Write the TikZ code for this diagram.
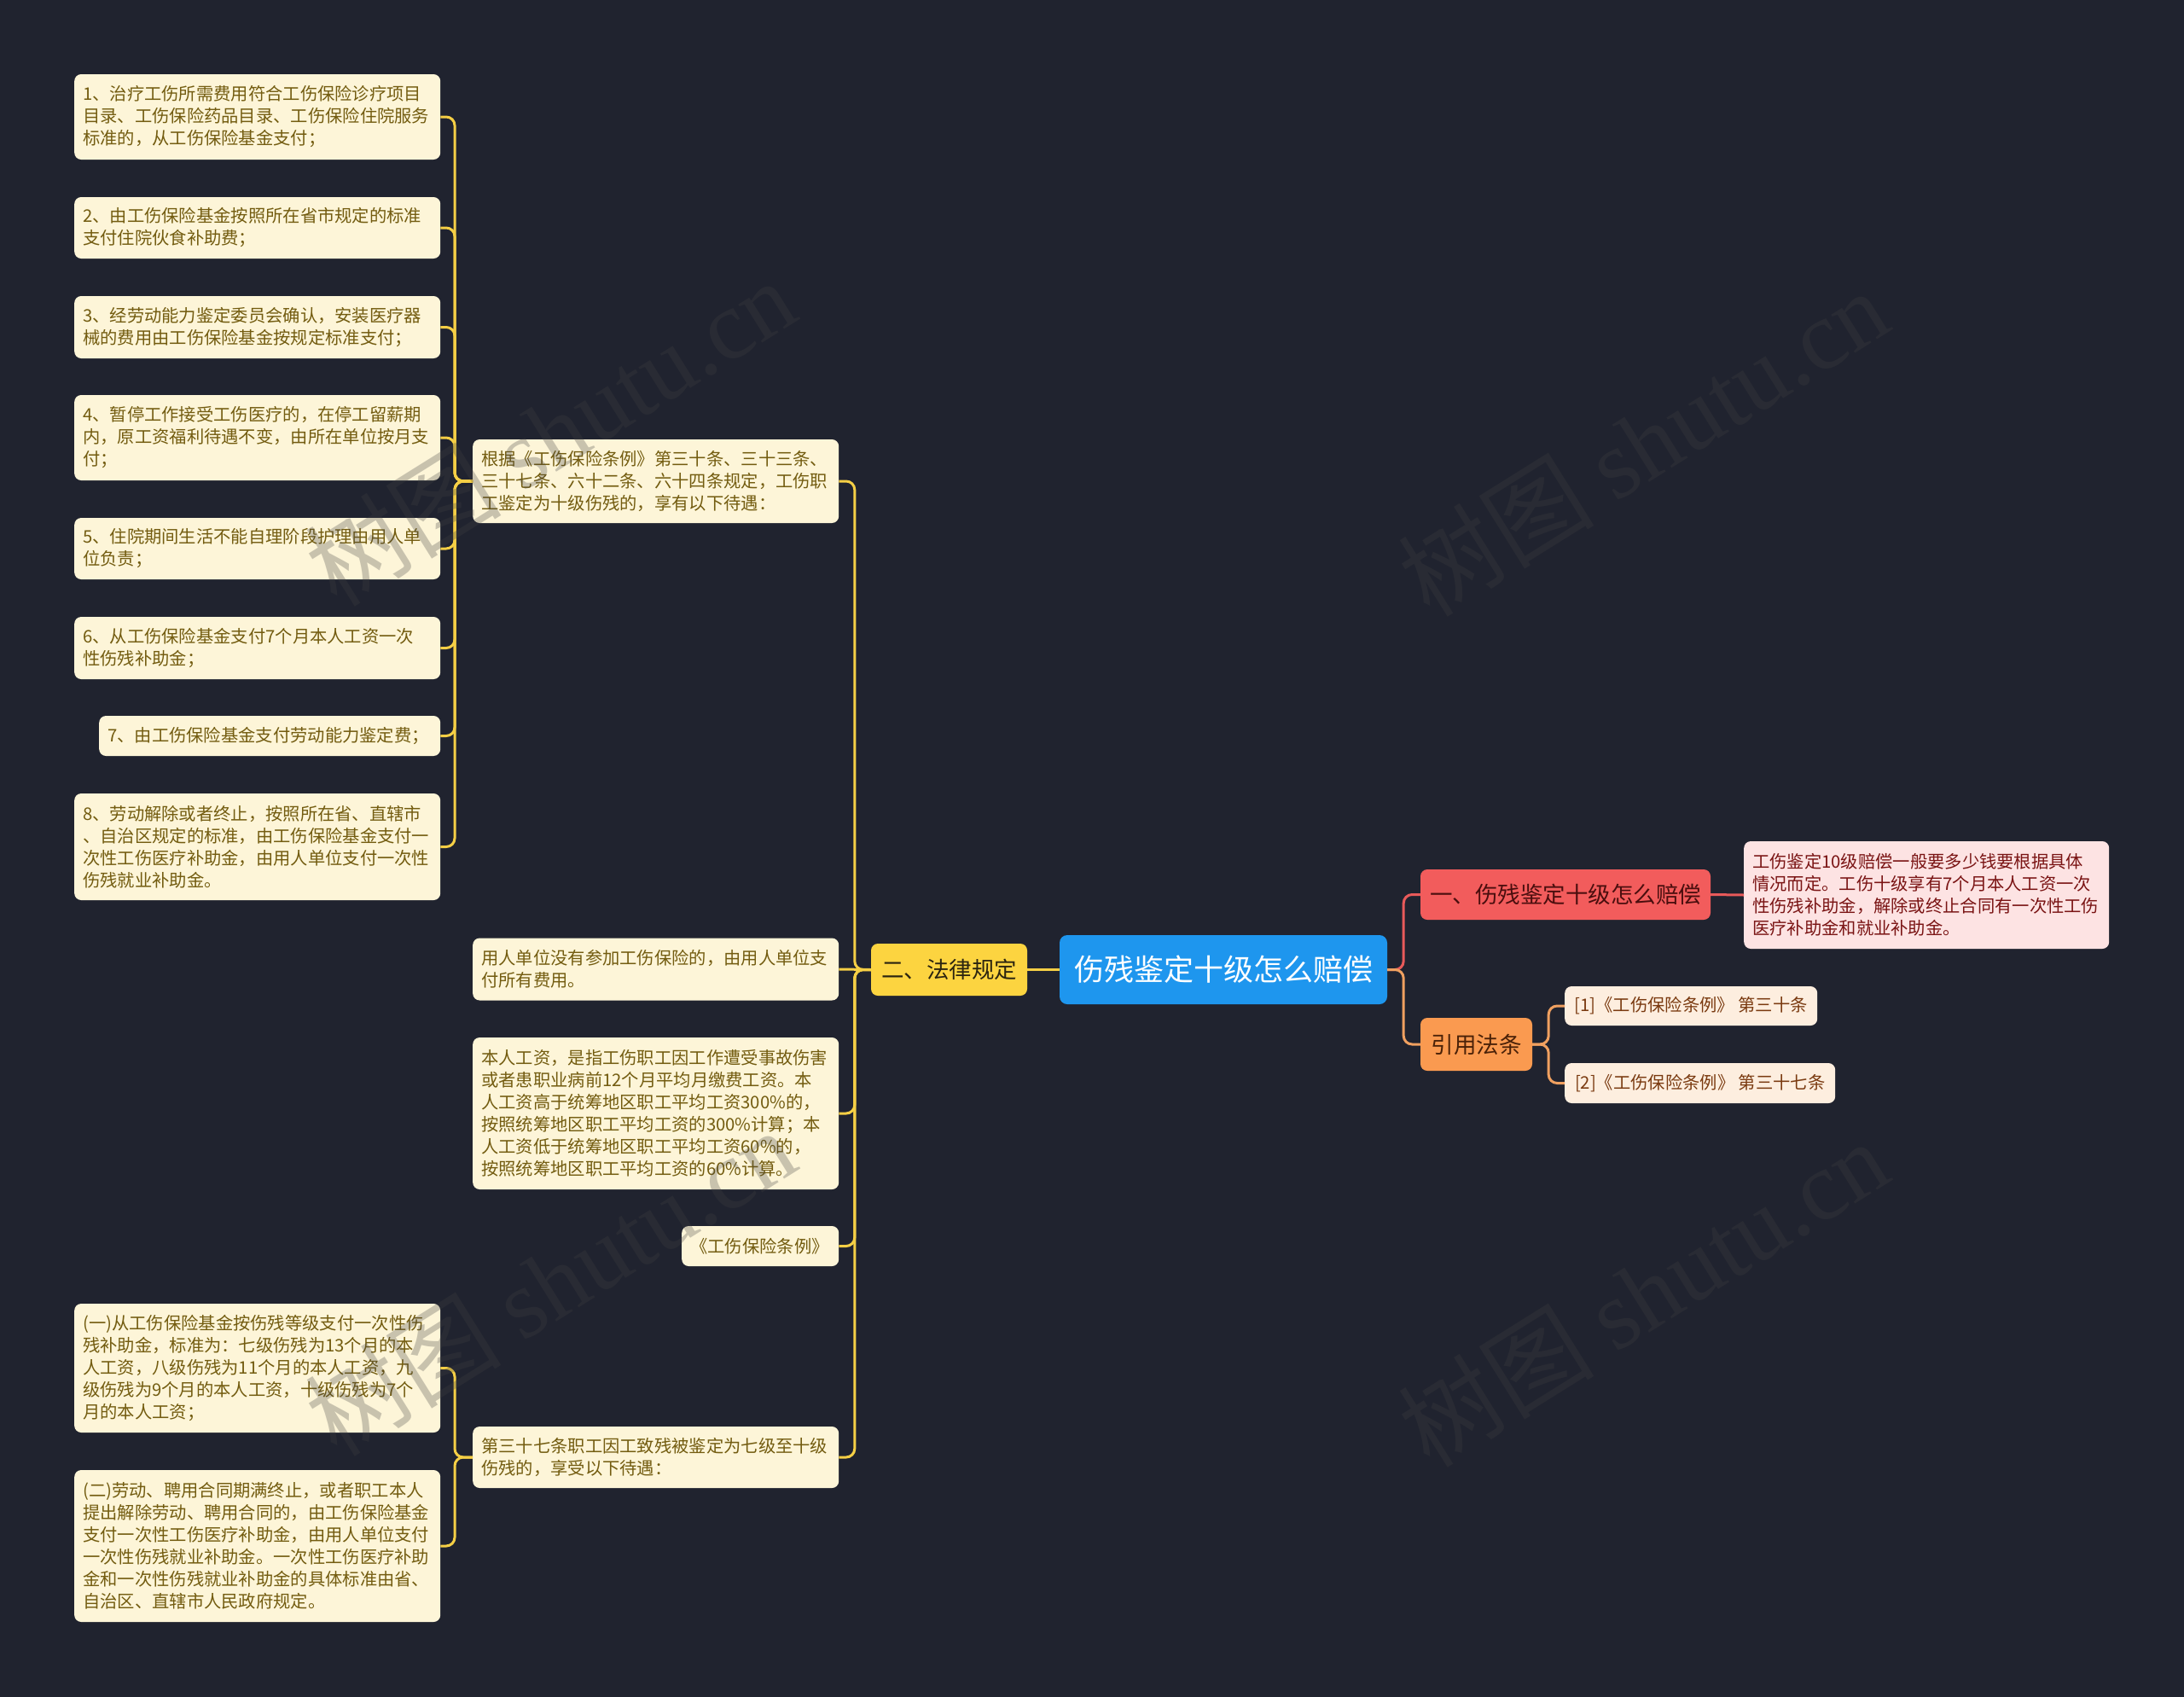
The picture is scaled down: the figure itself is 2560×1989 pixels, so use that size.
\documentclass[tikz,border=0pt]{standalone}
\usepackage{fontspec}
\setmainfont{Noto Sans CJK SC}
\newfontfamily\wmlatin{Liberation Serif}
\definecolor{bg}{RGB}{32,35,47}
\definecolor{leafbg}{HTML}{FDF5D8}
\definecolor{leaftext}{HTML}{735C10}
\definecolor{yline}{HTML}{F5CF45}
\definecolor{twobg}{HTML}{FCD440}
\definecolor{twotext}{HTML}{2B2410}
\definecolor{rootbg}{HTML}{1E96EE}
\definecolor{onebg}{HTML}{F25C5C}
\definecolor{onetext}{HTML}{4A0E0E}
\definecolor{rline}{HTML}{E85A5A}
\definecolor{descbg}{HTML}{FDE3E3}
\definecolor{desctext}{HTML}{7A1414}
\definecolor{citebg}{HTML}{FA9A50}
\definecolor{citetext}{HTML}{4A2108}
\definecolor{oline}{HTML}{F0A060}
\definecolor{citeleafbg}{HTML}{FDEEDF}
\definecolor{citeleaftext}{HTML}{7A3A10}
\definecolor{wmgray}{RGB}{65,65,65}
\tikzset{
  leafbox/.style={fill=leafbg, text=leaftext, rounded corners=8pt, inner xsep=10pt, inner ysep=0pt,
    align=left, anchor=west, font=\fontsize{20.3}{26}\selectfont},
  ylink/.style={draw=yline, line width=3pt, rounded corners=10pt},
  rlink/.style={draw=rline, line width=3pt, rounded corners=10pt},
  olink/.style={draw=oline, line width=3pt, rounded corners=10pt},
  wm/.style={text=wmgray, text opacity=0.28, rotate=32, font=\fontsize{115}{120}\selectfont},
}
\begin{document}
\begin{tikzpicture}[x=1pt,y=-1pt]
\fill[bg] (0,0) rectangle (2560,1989);
\useasboundingbox (0,0) rectangle (2560,1989);

% root and main branches
\node[fill=rootbg, text=white, rounded corners=9pt, minimum width=384pt, minimum height=81pt, inner sep=0pt,
  font=\fontsize{35}{40}\selectfont] (root) at (1434,1136.5) {伤残鉴定十级怎么赔偿};
\node[fill=twobg, text=twotext, rounded corners=8pt, minimum width=183pt, minimum height=61pt, inner sep=0pt,
  font=\fontsize{26.5}{30}\selectfont] (two) at (1112.5,1136.5) {二、法律规定};
\node[fill=onebg, text=onetext, rounded corners=8pt, minimum width=340pt, minimum height=59pt, inner sep=0pt,
  font=\fontsize{26.5}{30}\selectfont] (one) at (1835,1048.5) {一、伤残鉴定十级怎么赔偿};
\node[fill=citebg, text=citetext, rounded corners=8pt, minimum width=131pt, minimum height=62pt, inner sep=0pt,
  font=\fontsize{26.5}{30}\selectfont] (cite) at (1730.5,1224) {引用法条};

% right leaves
\node[leafbox, fill=descbg, text=desctext, text width=408pt, minimum height=126pt] (desc) at (2044,1049)
  {工伤鉴定10级赔偿一般要多少钱要根据具体\\情况而定。工伤十级享有7个月本人工资一次\\性伤残补助金，解除或终止合同有一次性工伤\\医疗补助金和就业补助金。};
\node[fill=citeleafbg, text=citeleaftext, rounded corners=8pt, minimum width=296pt, minimum height=46pt, inner sep=0pt,
  anchor=west, font=\fontsize{20.3}{26}\selectfont] (c1) at (1834,1179) {[1]《工伤保险条例》 第三十条};
\node[fill=citeleafbg, text=citeleaftext, rounded corners=8pt, minimum width=317pt, minimum height=47pt, inner sep=0pt,
  anchor=west, font=\fontsize{20.3}{26}\selectfont] (c2) at (1834,1269.5) {[2]《工伤保险条例》 第三十七条};

% middle column
\node[leafbox, text width=409pt, minimum height=98pt] (m1) at (554,564)
  {根据《工伤保险条例》第三十条、三十三条、\\三十七条、六十二条、六十四条规定，工伤职\\工鉴定为十级伤残的，享有以下待遇：};
\node[leafbox, text width=409pt, minimum height=73pt] (m2) at (554,1136)
  {用人单位没有参加工伤保险的，由用人单位支\\付所有费用。};
\node[leafbox, text width=409pt, minimum height=178pt] (m3) at (554,1305)
  {本人工资，是指工伤职工因工作遭受事故伤害\\或者患职业病前12个月平均月缴费工资。本\\人工资高于统筹地区职工平均工资300\%的，\\按照统筹地区职工平均工资的300\%计算；本\\人工资低于统筹地区职工平均工资60\%的，\\按照统筹地区职工平均工资的60\%计算。};
\node[leafbox, text width=164pt, minimum height=47pt] (m4) at (799,1460.5)
  {《工伤保险条例》};
\node[leafbox, text width=409pt, minimum height=72pt] (m5) at (554,1708)
  {第三十七条职工因工致残被鉴定为七级至十级\\伤残的，享受以下待遇：};

% left column
\node[leafbox, text width=409pt, minimum height=100pt] (l1) at (87,137)
  {1、治疗工伤所需费用符合工伤保险诊疗项目\\目录、工伤保险药品目录、工伤保险住院服务\\标准的，从工伤保险基金支付；};
\node[leafbox, text width=409pt, minimum height=72pt] (l2) at (87,267)
  {2、由工伤保险基金按照所在省市规定的标准\\支付住院伙食补助费；};
\node[leafbox, text width=409pt, minimum height=73pt] (l3) at (87,383.5)
  {3、经劳动能力鉴定委员会确认，安装医疗器\\械的费用由工伤保险基金按规定标准支付；};
\node[leafbox, text width=409pt, minimum height=100pt] (l4) at (87,513)
  {4、暂停工作接受工伤医疗的，在停工留薪期\\内，原工资福利待遇不变，由所在单位按月支\\付；};
\node[leafbox, text width=409pt, minimum height=72pt] (l5) at (87,643)
  {5、住院期间生活不能自理阶段护理由用人单\\位负责；};
\node[leafbox, text width=409pt, minimum height=73pt] (l6) at (87,759.5)
  {6、从工伤保险基金支付7个月本人工资一次\\性伤残补助金；};
\node[leafbox, text width=380pt, minimum height=47pt] (l7) at (116,862.5)
  {7、由工伤保险基金支付劳动能力鉴定费；};
\node[leafbox, text width=409pt, minimum height=125pt] (l8) at (87,992.5)
  {8、劳动解除或者终止，按照所在省、直辖市\\、自治区规定的标准，由工伤保险基金支付一\\次性工伤医疗补助金，由用人单位支付一次性\\伤残就业补助金。};
\node[leafbox, text width=409pt, minimum height=151pt] (l9) at (87,1603.5)
  {(一)从工伤保险基金按伤残等级支付一次性伤\\残补助金，标准为：七级伤残为13个月的本\\人工资，八级伤残为11个月的本人工资，九\\级伤残为9个月的本人工资，十级伤残为7个\\月的本人工资；};
\node[leafbox, text width=409pt, minimum height=178pt] (l10) at (87,1812)
  {(二)劳动、聘用合同期满终止，或者职工本人\\提出解除劳动、聘用合同的，由工伤保险基金\\支付一次性工伤医疗补助金，由用人单位支付\\一次性伤残就业补助金。一次性工伤医疗补助\\金和一次性伤残就业补助金的具体标准由省、\\自治区、直辖市人民政府规定。};

% connectors
\draw[ylink] (root.west) -- (two.east);
\draw[ylink] (two.west) -- (m2.east);
\foreach \m in {m1,m3,m4,m5} {
  \draw[ylink] (two.west) -- ++(-19,0) |- (\m.east);
}
\foreach \l in {l1,l2,l3,l4,l5,l6,l7,l8} {
  \draw[ylink] (m1.west) -- ++(-21,0) |- (\l.east);
}
\foreach \l in {l9,l10} {
  \draw[ylink] (m5.west) -- ++(-21,0) |- (\l.east);
}
\draw[rlink] (root.east) -- ++(19,0) |- (one.west);
\draw[olink] (root.east) -- ++(19,0) |- (cite.west);
\draw[rlink] (one.east) -- (desc.west);
\draw[olink] (cite.east) -- ++(19,0) |- (c1.west);
\draw[olink] (cite.east) -- ++(19,0) |- (c2.west);

% watermarks
\node[wm] (wm1) at (645,506) {树图 {\wmlatin shutu.cn}};
\node[wm] (wm2) at (1926,518) {树图 {\wmlatin shutu.cn}};
\node[wm] (wm3) at (645,1502) {树图 {\wmlatin shutu.cn}};
\node[wm] (wm4) at (1926,1515) {树图 {\wmlatin shutu.cn}};
\end{tikzpicture}
\end{document}
